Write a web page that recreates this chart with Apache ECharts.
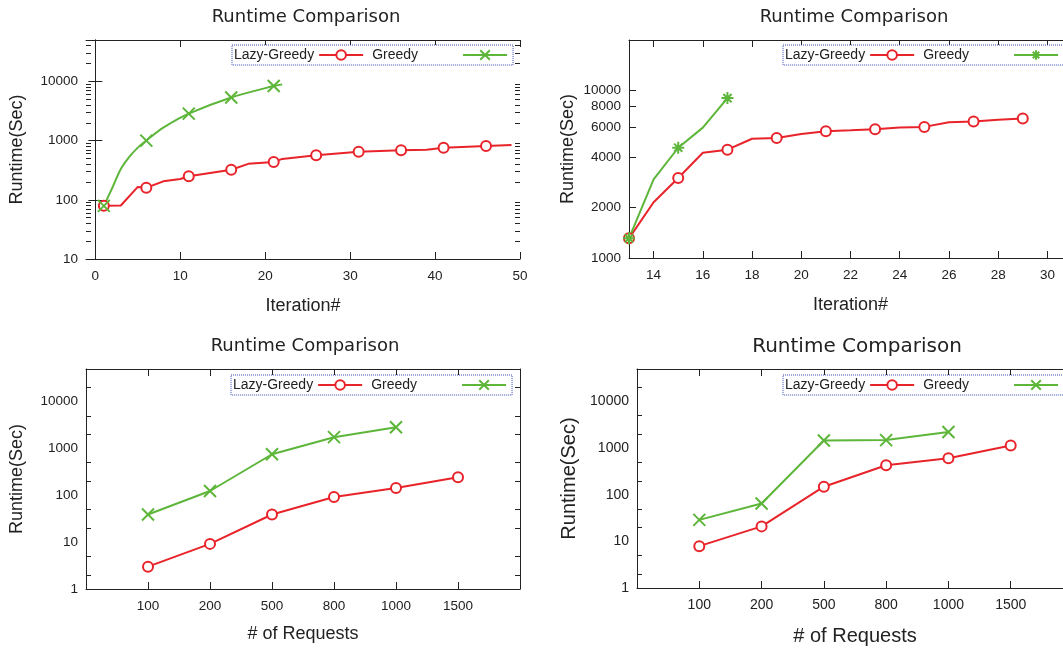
<!DOCTYPE html>
<html>
<head>
<meta charset="utf-8">
<title>Runtime Comparison</title>
<script src="https://cdn.jsdelivr.net/npm/echarts@6/dist/echarts.min.js"></script>
</head>
<body style="margin:0">
<div id="chart" style="width:1063px;height:648px"></div>
<script>
// ---- data ----
// top-left: runtime per iteration
var iterLazyA   = [1, 3, 5, 6, 8, 10, 11, 16, 18, 21, 22, 26, 31, 36, 39, 41, 46, 49];
var lazyA       = [79, 80, 165, 160, 205, 225, 250, 322, 405, 435, 490, 565, 650, 688, 700, 760, 812, 845];
var lazyMarkA   = [1, 6, 11, 16, 21, 26, 31, 36, 41, 46];
var iterGreedyA = [1, 2, 3, 4, 5, 6, 8, 11, 16, 21, 22];
var greedyA     = [79, 160, 330, 530, 760, 1000, 1650, 2850, 5350, 8350, 8900];
var greedyMarkA = [1, 6, 11, 16, 21];

// top-right: runtime per iteration, zoomed
var iterLazyB   = [13, 14, 15, 16, 17, 18, 19, 20, 21, 22, 23, 24, 25, 26, 27, 28, 29];
var lazyB       = [1310, 2150, 3000, 4250, 4430, 5150, 5200, 5500, 5700, 5780, 5870, 6000, 6060, 6450, 6530, 6680, 6810];
var lazyMarkB   = [13, 15, 17, 19, 21, 23, 25, 27, 29];
var iterGreedyB = [13, 14, 15, 16, 17];
var greedyB     = [1310, 2950, 4550, 6000, 9000];
var greedyMarkB = [13, 15, 17];

// bottom: runtime per number of requests
var requests = ['100', '200', '500', '800', '1000', '1500'];
var lazyC    = [3, 9.2, 39, 92, 144, 245];
var greedyC  = [39, 124, 755, 1750, 2840];
var lazyD    = [7.9, 21, 149, 430, 608, 1140];
var greedyD  = [29, 65, 1460, 1490, 2220];

// tick labels
var xTicksA = [0, 10, 20, 30, 40, 50];
var yTicksA = [10, 100, 1000, 10000];
var xTicksB = [14, 16, 18, 20, 22, 24, 26, 28, 30];
var yTicksB = [1000, 2000, 4000, 6000, 8000, 10000];
var yTicksC = [1, 10, 100, 1000, 10000];

// ---- styles ----
var RED = '#e8232a', GREEN = '#5db63a', INK = '#222';
var SANS = 'Liberation Sans';
var CROSS = 'path://M0,0L10,10M10,0L0,10';
var STAR = 'path://M5,0L5,10M0,5L10,5M1.6,1.6L8.4,8.4M8.4,1.6L1.6,8.4';

function minorTicks(decades, steps, top) {
    var out = [];
    decades.forEach(function (d) {
        steps.forEach(function (k) { if (d * k < top) out.push(d * k); });
    });
    return out;
}

function pairs(xs, ys, marks) {
    return xs.map(function (x, i) {
        var item = {value: [x, ys[i]]};
        if (marks.indexOf(x) < 0) item.symbol = 'none';
        return item;
    });
}

function padCats(vals) {
    var out = ['-'].concat(vals);
    while (out.length < requests.length + 2) out.push('-');
    return out;
}

var grids = [], xAxes = [], yAxes = [], series = [], legends = [], titles = [];

function tickLabel(size) {
    return {fontFamily: SANS, fontSize: size, color: INK};
}

// one gnuplot-style panel: box border, ticks inside, mirrored ticks
function panel(p) {
    var g = grids.length;
    grids.push({left: p.left, top: p.top, width: p.width, height: p.height,
        containLabel: false, outerBoundsMode: 'none'});

    var xBase = {gridIndex: g, type: p.xType, min: p.xMin, max: p.xMax,
        splitLine: {show: false},
        axisLine: {show: true, onZero: false, lineStyle: {color: INK, width: 1}}};
    if (p.xType === 'category') {
        xBase.data = [''].concat(requests, ['']);
        xBase.boundaryGap = false;
    }
    var xMain = echarts.util.merge({
        position: 'bottom',
        axisTick: {inside: true, length: 7, lineStyle: {color: INK}},
        axisLabel: Object.assign({margin: 10}, tickLabel(p.fs)),
        name: p.xName, nameLocation: 'middle', nameGap: p.xGap,
        nameTextStyle: {fontFamily: SANS, fontSize: p.nfs, color: INK}
    }, xBase, true);
    var xTop = echarts.util.merge({
        position: 'top',
        axisTick: {inside: true, length: 7, lineStyle: {color: INK}},
        axisLabel: {show: false}
    }, xBase, true);
    if (p.xType === 'category') {
        xMain.axisTick.interval = 0; xMain.axisLabel.interval = 0;
        xTop.axisTick.interval = 0;
    } else {
        xMain.axisTick.customValues = p.xTicks;
        xMain.axisLabel.customValues = p.xTicks;
        xTop.axisTick.customValues = p.xTicks;
    }
    var xi = xAxes.length;
    xAxes.push(xMain, xTop);

    var yBase = {gridIndex: g, type: 'log', logBase: 10, min: p.yMin, max: p.yMax,
        splitLine: {show: false}};
    var yi = yAxes.length;
    yAxes.push(echarts.util.merge({
        position: 'left',
        axisLine: {show: true, lineStyle: {color: INK, width: 1}},
        axisTick: {inside: true, length: 7, customValues: p.yTicks, lineStyle: {color: INK}},
        axisLabel: Object.assign({margin: 8, customValues: p.yTicks,
            formatter: function (v) { return String(Math.round(v)); }}, tickLabel(p.fs)),
        name: 'Runtime(Sec)', nameLocation: 'middle', nameGap: p.yGap,
        nameTextStyle: {fontFamily: SANS, fontSize: p.nfs, color: INK}
    }, yBase, true));
    yAxes.push(echarts.util.merge({
        position: 'right',
        axisLine: {show: true, lineStyle: {color: INK, width: 1}},
        axisTick: {inside: true, length: 7, customValues: p.yTicks, lineStyle: {color: INK}},
        axisLabel: {show: false}
    }, yBase, true));
    if (p.yMinor) {
        ['right', 'left'].forEach(function (pos) {
            yAxes.push(echarts.util.merge({
                position: pos,
                axisLine: {show: false},
                axisTick: {show: true, inside: true, length: 5, customValues: p.yMinor,
                    lineStyle: {color: INK, width: 1}},
                axisLabel: {show: false}
            }, yBase, true));
        });
    }

    var suffix = ' (' + g + ')';
    series.push({
        name: 'Lazy-Greedy' + suffix, type: 'line', xAxisIndex: xi, yAxisIndex: yi,
        data: p.lazy, symbol: 'emptyCircle', symbolSize: 10, showAllSymbol: true,
        lineStyle: {color: RED, width: 2}, itemStyle: {color: RED, borderWidth: 2}
    }, {
        name: 'Greedy' + suffix, type: 'line', xAxisIndex: xi, yAxisIndex: yi,
        data: p.greedy, symbol: p.mark, symbolSize: 12, showAllSymbol: true,
        smooth: p.smooth || false,
        lineStyle: {color: GREEN, width: 2},
        itemStyle: {color: GREEN, borderColor: GREEN, borderWidth: 2}
    });

    legends.push({
        left: p.legLeft, top: p.legTop, width: 300, orient: 'horizontal', align: 'right',
        itemWidth: 44, itemHeight: 12, itemGap: 8, padding: [3, 5, 3, 2],
        borderColor: '#3b4db0', borderWidth: 1, borderType: 'dotted',
        backgroundColor: '#fff',
        data: ['Lazy-Greedy' + suffix, 'Greedy' + suffix],
        formatter: function (n) {
            var label = n.replace(/ \(\d+\)$/, '');
            // gnuplot key: left-justified text in a fixed column
            return label === 'Greedy' ? '{b|' + label + '}' : '{a|' + label + '}';
        },
        textStyle: {
            fontFamily: SANS, fontSize: p.lfs, color: INK,
            rich: {
                a: {fontFamily: SANS, fontSize: p.lfs, color: INK},
                b: {fontFamily: SANS, fontSize: p.lfs, color: INK, padding: [0, 40, 0, 0]}
            }
        }
    });

    titles.push({
        text: 'Runtime Comparison', left: p.titleX, top: p.titleY, textAlign: 'center', padding: 0,
        textStyle: {fontFamily: 'DejaVu Sans', fontSize: p.tfs, fontWeight: 'normal', color: INK}
    });
}

var minorA = minorTicks(yTicksA, [2, 3, 4, 5, 6, 7, 8, 9], 50000);
var minorC = minorTicks(yTicksC, [2, 5], 50000);

panel({left: 86, top: 40, width: 434, height: 219, xType: 'value', xMin: -1.1, xMax: 50,
    xTicks: xTicksA, yMin: 10, yMax: 50000, yTicks: yTicksA, yMinor: minorA,
    xName: 'Iteration#', xGap: 38, yGap: 60, fs: 13.5, nfs: 18, lfs: 14, tfs: 18,
    lazy: pairs(iterLazyA, lazyA, lazyMarkA), greedy: pairs(iterGreedyA, greedyA, greedyMarkA),
    mark: CROSS, smooth: 0.3, legLeft: 232, legTop: 45, titleX: 306, titleY: 8});

panel({left: 629, top: 40, width: 443, height: 218, xType: 'value', xMin: 13, xMax: 31,
    xTicks: xTicksB, yMin: 1000, yMax: 20000, yTicks: yTicksB, yMinor: null,
    xName: 'Iteration#', xGap: 38, yGap: 52, fs: 13.5, nfs: 18, lfs: 14, tfs: 18,
    lazy: pairs(iterLazyB, lazyB, lazyMarkB), greedy: pairs(iterGreedyB, greedyB, greedyMarkB),
    mark: STAR, legLeft: 783, legTop: 45, titleX: 854, titleY: 8});

panel({left: 86, top: 369, width: 434, height: 220, xType: 'category',
    yMin: 1, yMax: 50000, yTicks: yTicksC, yMinor: minorC,
    xName: '# of Requests', xGap: 36, yGap: 60, fs: 13.5, nfs: 18, lfs: 14, tfs: 18,
    lazy: padCats(lazyC), greedy: padCats(greedyC),
    mark: CROSS, legLeft: 231, legTop: 375, titleX: 305, titleY: 337});

panel({left: 637, top: 369, width: 436, height: 219, xType: 'category',
    yMin: 1, yMax: 50000, yTicks: yTicksC, yMinor: minorC,
    xName: '# of Requests', xGap: 38, yGap: 58, fs: 14, nfs: 20, lfs: 14, tfs: 20,
    lazy: padCats(lazyD), greedy: padCats(greedyD),
    mark: CROSS, legLeft: 783, legTop: 375, titleX: 857, titleY: 337});

var myChart = echarts.init(document.getElementById('chart'));
myChart.setOption({
    animation: false,
    backgroundColor: '#fff',
    title: titles,
    legend: legends,
    grid: grids,
    xAxis: xAxes,
    yAxis: yAxes,
    series: series
});
</script>
</body>
</html>
